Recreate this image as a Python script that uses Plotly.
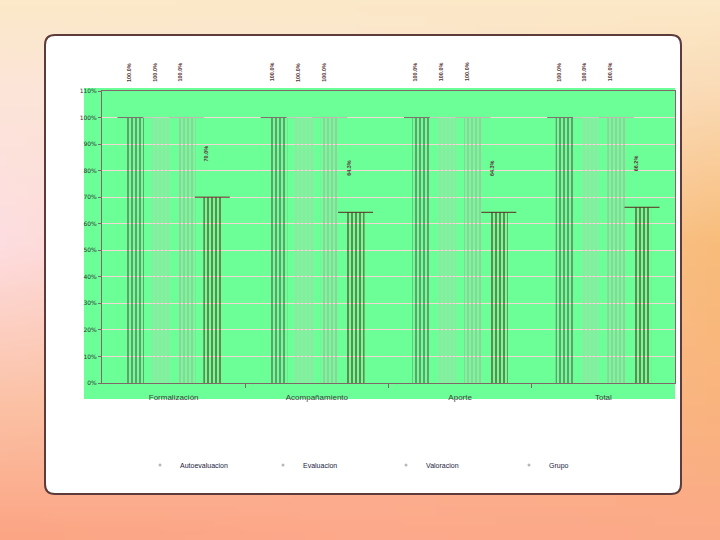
import base64
import struct
import zlib

import plotly.graph_objects as go

# chart data
categories = ['Formalización', 'Acompañamiento', 'Aporte', 'Total']
series_names = ['Autoevaluacion', 'Evaluacion', 'Valoracion', 'Grupo']
autoevaluacion = [100, 100, 100, 100]
evaluacion = [100, 100, 100, 100]
valoracion = [100, 100, 100, 100]
grupo = [70, 64.3, 64.3, 66.2]
y_ticks = list(range(0, 111, 10))

series_values = [autoevaluacion, evaluacion, valoracion, grupo]
stripe_colors = ['#56463f', '#c6c6b6', '#b9a2a0', '#5a1508']
top_colors = ['#7a6e6a', '#d0ccc4', '#c4b4b0', '#5a2a20']

W, H = 720, 540
L, R, T, B = 102, 45, 91, 157
PW, PH = W - L - R, H - T - B


def px_x(px):
    return (px - L) / PW


def px_y(py):
    return (H - B - py) / PH


def gradient_png():
    # soft peach / orange backdrop behind the card
    rows = [
        (0.00, ['#fbe9c9', '#fbe8c8', '#fbe8c6']),
        (0.15, ['#fce5d8', '#fbe4d4', '#fadcb8']),
        (0.45, ['#fddde0', '#fbd0b8', '#f8bc7a']),
        (0.75, ['#fbc2a6', '#fbba98', '#f9b47e']),
        (1.00, ['#fba584', '#fca88a', '#fbaa88']),
    ]

    def rgb(h):
        return [int(h[i:i + 2], 16) for i in (1, 3, 5)]

    def lerp(a, b, t):
        return [a[k] + (b[k] - a[k]) * t for k in range(3)]

    def row_color(cols, fx):
        if fx <= 0.5:
            return lerp(rgb(cols[0]), rgb(cols[1]), fx / 0.5)
        return lerp(rgb(cols[1]), rgb(cols[2]), (fx - 0.5) / 0.5)

    w, h = 72, 54
    raw = b''
    for j in range(h):
        fy = j / (h - 1)
        for k in range(len(rows) - 1):
            if rows[k][0] <= fy <= rows[k + 1][0]:
                y0, c0 = rows[k]
                y1, c1 = rows[k + 1]
                break
        t = (fy - y0) / (y1 - y0)
        line = b'\x00'
        for i in range(w):
            fx = i / (w - 1)
            c = lerp(row_color(c0, fx), row_color(c1, fx), t)
            line += bytes(int(round(v)) for v in c)
        raw += line

    def chunk(tag, data):
        return struct.pack('>I', len(data)) + tag + data + struct.pack('>I', zlib.crc32(tag + data) & 0xffffffff)

    png = b'\x89PNG\r\n\x1a\n'
    png += chunk(b'IHDR', struct.pack('>IIBBBBB', w, h, 8, 2, 0, 0, 0))
    png += chunk(b'IDAT', zlib.compress(raw, 9))
    png += chunk(b'IEND', b'')
    return 'data:image/png;base64,' + base64.b64encode(png).decode()


x_base = list(range(len(categories)))
bargap = 0.28
n = len(series_names)
slot = (1 - bargap) / n
offsets = [-(1 - bargap) / 2 + (j + 0.5) * slot for j in range(n)]

fig = go.Figure()

for j, name in enumerate(series_names):
    fig.add_trace(go.Bar(
        x=x_base, y=series_values[j], name=name, showlegend=False,
        marker=dict(color=stripe_colors[j], line_width=0,
                    pattern=dict(shape='|', fgcolor=stripe_colors[j], bgcolor='rgba(0,0,0,0)',
                                 size=4, solidity=0.5)),
        hoverinfo='skip'))

# top edge of each bar slot
for j, name in enumerate(series_names):
    fig.add_trace(go.Scatter(
        x=[x + offsets[j] for x in x_base], y=series_values[j], mode='markers',
        marker=dict(symbol='line-ew', size=25, line=dict(color=top_colors[j], width=1)),
        showlegend=False, cliponaxis=False, hoverinfo='skip'))

# legend entries
for j, name in enumerate(series_names):
    fig.add_trace(go.Scatter(
        x=[None], y=[None], mode='markers', name=name,
        marker=dict(size=3, color='#b8b8b8')))

# value labels
for j in range(n):
    for i, v in enumerate(series_values[j]):
        fig.add_annotation(
            x=x_base[i] + offsets[j], y=v, text=f'<b>{v:.1f}%</b>', showarrow=False,
            textangle=-90, yanchor='bottom', yshift=34, xshift=-6,
            font=dict(family='Liberation Sans', size=5.5, color='#5a3a3a'))

card = (f'M {px_x(55)},{px_y(35)} L {px_x(671)},{px_y(35)} Q {px_x(681)},{px_y(35)} {px_x(681)},{px_y(45)} '
        f'L {px_x(681)},{px_y(484)} Q {px_x(681)},{px_y(494)} {px_x(671)},{px_y(494)} '
        f'L {px_x(55)},{px_y(494)} Q {px_x(45)},{px_y(494)} {px_x(45)},{px_y(484)} '
        f'L {px_x(45)},{px_y(45)} Q {px_x(45)},{px_y(35)} {px_x(55)},{px_y(35)} Z')

fig.update_layout(
    width=W, height=H,
    margin=dict(l=L, r=R, t=T, b=B),
    paper_bgcolor='#fbd8c0',
    plot_bgcolor='rgba(0,0,0,0)',
    barmode='group', bargap=bargap, bargroupgap=0.3,
    images=[dict(source=gradient_png(), xref='paper', yref='paper',
                 x=px_x(0), y=px_y(0), sizex=W / PW, sizey=H / PH,
                 xanchor='left', yanchor='top', sizing='stretch', layer='below')],
    shapes=[
        dict(type='path', path=card, xref='paper', yref='paper', layer='below',
             fillcolor='white', line=dict(color='#5e3b3b', width=2)),
        dict(type='rect', xref='paper', yref='paper', layer='below',
             x0=px_x(84), x1=px_x(675), y0=px_y(399), y1=px_y(88),
             fillcolor='#6cff98', line_width=0),
    ],
    legend=dict(orientation='h', x=px_x(140), y=px_y(465), xanchor='left', yanchor='middle',
                entrywidth=78, entrywidthmode='pixels', itemwidth=30,
                font=dict(family='Liberation Sans', size=7, color='#1a1a40'),
                bgcolor='rgba(0,0,0,0)'),
)

fig.update_xaxes(
    range=[-0.5, len(categories) - 0.5], tickmode='array', tickvals=x_base, ticktext=categories,
    ticks='', showgrid=False, zeroline=False, ticklabelstandoff=6,
    showline=True, linecolor='#806868', linewidth=1, mirror=True,
    tickfont=dict(family='Liberation Sans', size=8, color='#404040'),
    minor=dict(tickmode='array', tickvals=[x + 0.5 for x in x_base[:-1]],
               ticks='outside', ticklen=4, tickcolor='#806868', showgrid=False),
    fixedrange=True)
fig.update_yaxes(
    range=[0, 110], tickmode='array', tickvals=y_ticks, ticktext=[f'{v}%' for v in y_ticks],
    ticks='outside', ticklen=3, tickcolor='#806868',
    showgrid=True, gridcolor='#f4d8d4', gridwidth=1, zeroline=False,
    showline=True, linecolor='#806868', linewidth=1, mirror=True,
    tickfont=dict(family='DejaVu Sans', size=6, color='#303030'),
    fixedrange=True)

fig.write_html('out.html', config={'displayModeBar': False},
               post_script="document.body.style.margin='0';")
